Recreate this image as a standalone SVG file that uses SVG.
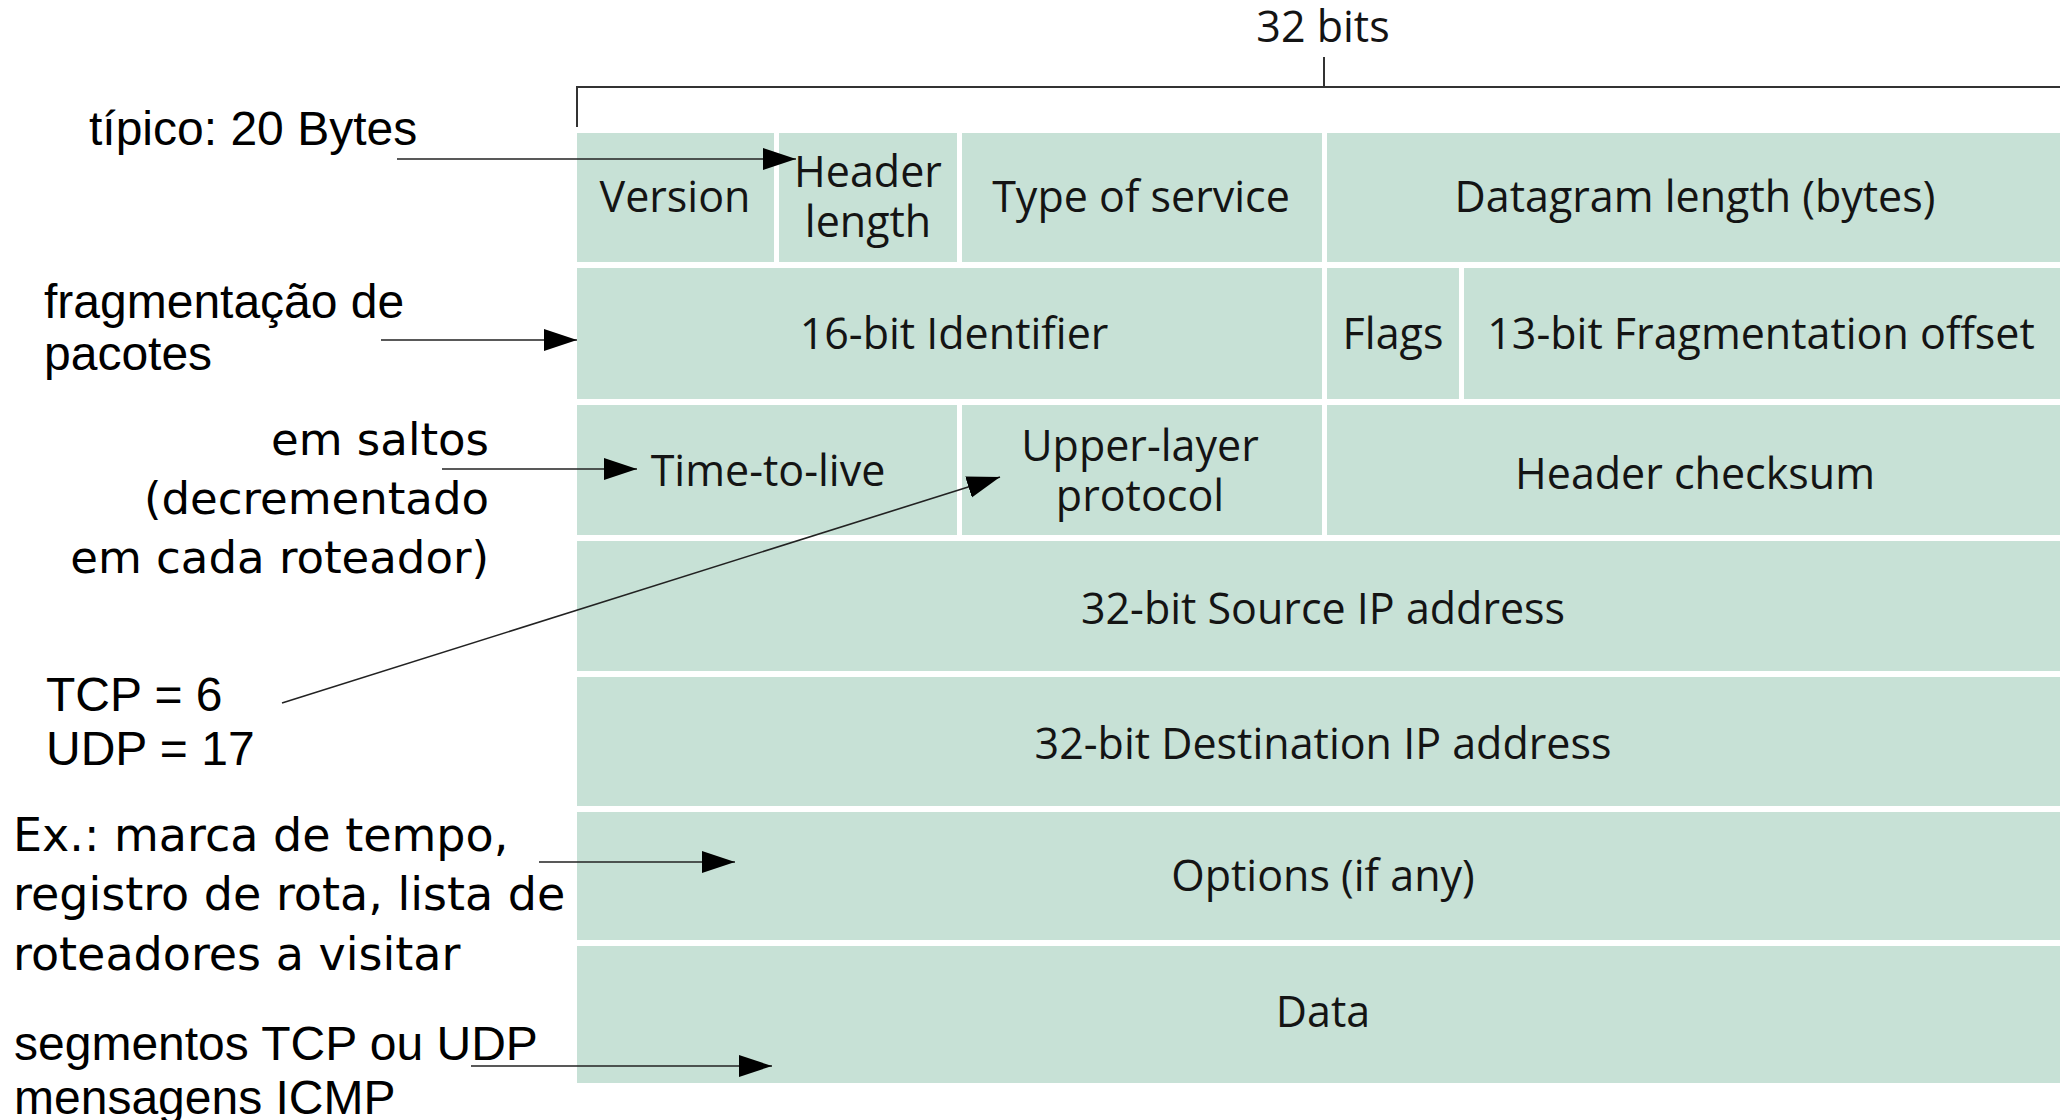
<svg xmlns="http://www.w3.org/2000/svg" width="2060" height="1120" viewBox="0 0 2060 1120">
<style>
.cell{fill:#c7e1d6}
.t{font-family:"Open Sans","DejaVu Sans",sans-serif;font-size:43px;fill:#141414;text-anchor:middle}
.a{font-family:"Liberation Sans",Arial,sans-serif;font-size:48px;fill:#000}
.d{font-family:"DejaVu Sans",sans-serif;font-size:45px;fill:#000}
.br{stroke:#333;stroke-width:2;fill:none}
.c{stroke:#222;stroke-width:1.6;fill:none;marker-end:url(#ah)}
</style>
<defs>
<marker id="ah" markerUnits="userSpaceOnUse" markerWidth="34" markerHeight="24" refX="33" refY="11" orient="auto">
<path d="M0,0 L33,11 L0,22 Z" fill="#000"/>
</marker>
</defs>
<rect width="2060" height="1120" fill="#fff"/>
<g id="bracket">
<path class="br" d="M577,127 V87 H2060 M1324,57 V87"/>
<text class="t" x="1323" y="42">32 bits</text>
</g>
<g id="version"><rect class="cell" x="577" y="133" width="197" height="129"/><text class="t" x="675" y="212">Version</text></g>
<g id="header-length"><rect class="cell" x="779" y="133" width="178" height="129"/><text class="t" x="868" y="187">Header</text><text class="t" x="868" y="237">length</text></g>
<g id="type-of-service"><rect class="cell" x="962" y="133" width="360" height="129"/><text class="t" x="1141" y="212">Type of service</text></g>
<g id="datagram-length"><rect class="cell" x="1327" y="133" width="733" height="129"/><text class="t" x="1695" y="212">Datagram length (bytes)</text></g>
<g id="identifier"><rect class="cell" x="577" y="268" width="745" height="131"/><text class="t" x="954" y="349">16-bit Identifier</text></g>
<g id="flags"><rect class="cell" x="1327" y="268" width="132" height="131"/><text class="t" x="1393" y="349">Flags</text></g>
<g id="frag-offset"><rect class="cell" x="1464" y="268" width="596" height="131"/><text class="t" x="1761" y="349">13-bit Fragmentation offset</text></g>
<g id="ttl"><rect class="cell" x="577" y="405" width="380" height="130"/><text class="t" x="768" y="486">Time-to-live</text></g>
<g id="upper-layer"><rect class="cell" x="962" y="405" width="360" height="130"/><text class="t" x="1140" y="461">Upper-layer</text><text class="t" x="1140" y="511">protocol</text></g>
<g id="checksum"><rect class="cell" x="1327" y="405" width="733" height="130"/><text class="t" x="1695" y="489">Header checksum</text></g>
<g id="source"><rect class="cell" x="577" y="541" width="1483" height="130"/><text class="t" x="1323" y="624">32-bit Source IP address</text></g>
<g id="destination"><rect class="cell" x="577" y="677" width="1483" height="129"/><text class="t" x="1323" y="759">32-bit Destination IP address</text></g>
<g id="options"><rect class="cell" x="577" y="812" width="1483" height="128"/><text class="t" x="1323" y="891">Options (if any)</text></g>
<g id="data"><rect class="cell" x="577" y="946" width="1483" height="137"/><text class="t" x="1323" y="1027">Data</text></g>
<g id="note-tipico"><text class="a" x="89" y="145">típico: 20 Bytes</text></g>
<g id="note-frag"><text class="a" x="44" y="318">fragmentação de</text><text class="a" x="44" y="370">pacotes</text></g>
<g id="note-ttl"><text class="d" x="489" y="455" text-anchor="end">em saltos</text><text class="d" x="489" y="514" text-anchor="end">(decrementado</text><text class="d" x="489" y="573" text-anchor="end">em cada roteador)</text></g>
<g id="note-proto"><text class="a" x="46" y="711">TCP = 6</text><text class="a" x="46" y="765">UDP = 17</text></g>
<g id="note-options"><text class="d" x="13" y="851" style="font-size:46px">Ex.: marca de tempo,</text><text class="d" x="13" y="910" style="font-size:46px">registro de rota, lista de</text><text class="d" x="13" y="970" style="font-size:46px">roteadores a visitar</text></g>
<g id="note-data"><text class="a" x="14" y="1060">segmentos TCP ou UDP</text><text class="a" x="14" y="1114">mensagens ICMP</text></g>
<g id="connectors">
<line class="c" x1="397" y1="159" x2="796" y2="159"/>
<line class="c" x1="381" y1="340" x2="577" y2="340"/>
<line class="c" x1="442" y1="469" x2="637" y2="469"/>
<line class="c" x1="282" y1="703" x2="1000" y2="477"/>
<line class="c" x1="539" y1="862" x2="735" y2="862"/>
<line class="c" x1="471" y1="1066" x2="772" y2="1066"/>
</g>
</svg>
